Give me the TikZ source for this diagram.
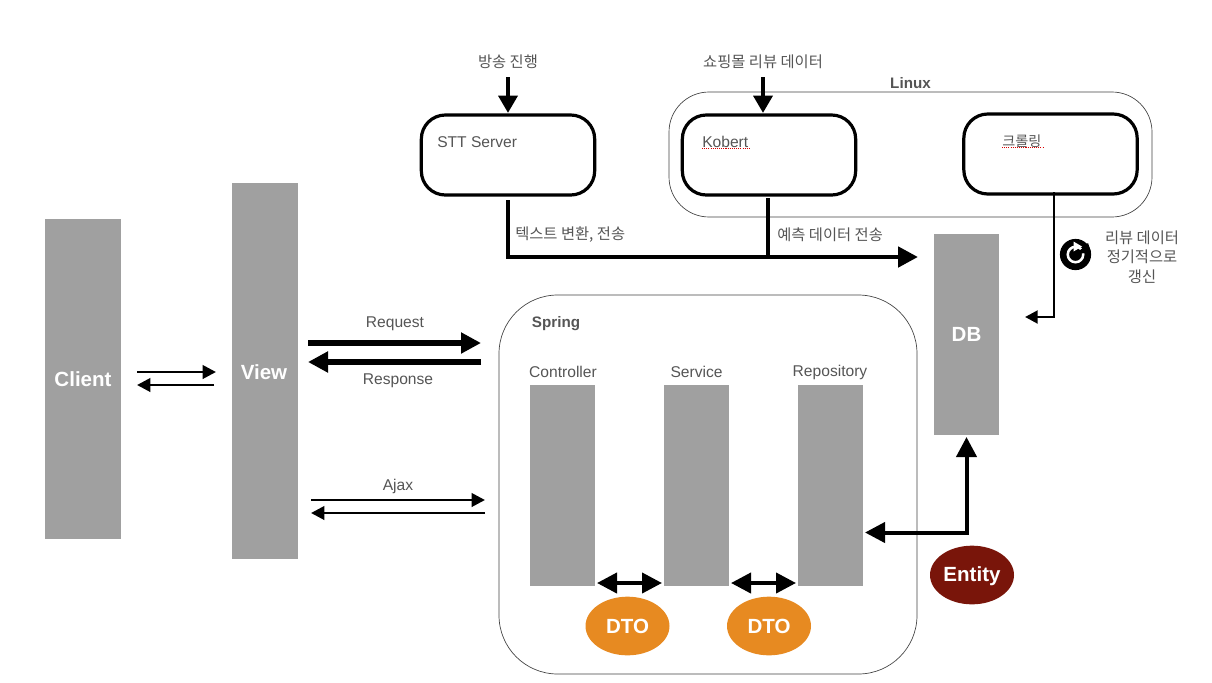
\documentclass[tikz,border=0pt]{standalone}
\usepackage{fontspec}
\setmainfont{Liberation Sans}
\newfontfamily\krfont{Noto Sans CJK KR}
\usetikzlibrary{arrows.meta,shapes.geometric}
\definecolor{blockgray}{HTML}{A0A0A0}
\definecolor{labelgray}{HTML}{555555}
\definecolor{dtoorange}{HTML}{E78A21}
\definecolor{entityred}{HTML}{79150A}
\tikzset{
  block/.style={fill=blockgray,draw=none,inner sep=0pt,text=white,font=\fontsize{15.4}{18}\selectfont\bfseries},
  badge/.style={ellipse,draw=none,inner sep=0pt,minimum width=63pt,minimum height=44pt,text=white,font=\fontsize{15.4}{18}\selectfont\bfseries},
  serverbox/.style={draw=black,line width=2.4pt,fill=white,rounded corners=18pt,minimum width=130pt,minimum height=60pt,inner sep=0pt},
  groupbox/.style={draw=black!75,line width=0.5pt,inner sep=0pt},
  lbl/.style={text=labelgray,inner sep=0pt,font=\fontsize{11.7}{14}\selectfont},
  krlbl/.style={text=labelgray,inner sep=0pt,align=center,font=\krfont\fontsize{11.5}{14.7}\selectfont},
  grouplbl/.style={text=labelgray,inner sep=0pt,font=\fontsize{11.4}{14}\selectfont\bfseries},
  heavy/.style={line width=3.8pt,-{Triangle[length=15pt,width=15pt]}},
  medium/.style={line width=3pt,{Triangle[length=15pt,width=15pt]}-{Triangle[length=15pt,width=15pt]}},
  feed/.style={line width=3.5pt,-{Triangle[length=13pt,width=14pt]}},
  pipe/.style={line width=3.6pt,line cap=butt},
  slim/.style={line width=2.1pt,-{Triangle[length=10pt,width=10pt]}},
  squiggle/.style={draw=red!85!black,line width=0.7pt,dash pattern=on 0.8pt off 0.8pt},
}
\begin{document}
\begin{tikzpicture}[x=0.75pt,y=-0.75pt]
\useasboundingbox (0,0) rectangle (1212,682);
% group frames
\node[groupbox,rounded corners=30pt,minimum width=362.25pt,minimum height=93.75pt] (linux) at (910.5,154.5) {};
\node[groupbox,rounded corners=44pt,minimum width=313.5pt,minimum height=284.25pt] (spring) at (708,484.5) {};
\node[grouplbl] (linuxlbl) at (910.5,83) {Linux};
\node[grouplbl] (springlbl) at (556,323.5) {Spring};
% blocks
\node[block,minimum width=57pt,minimum height=240pt] (client) at (83,379) {Client};
\node[block,minimum width=49.5pt,minimum height=282pt] (view) at (265,371) {};
\node[block,text=white] (viewlbl) at (264,372) {View};
\node[block,minimum width=48.75pt,minimum height=150.75pt] (db) at (966.5,334.5) {DB};
\node[block,minimum width=48.75pt,minimum height=150.75pt] (controller) at (562.5,485.5) {};
\node[block,minimum width=48.75pt,minimum height=150.75pt] (service) at (696.5,485.5) {};
\node[block,minimum width=48.75pt,minimum height=150.75pt] (repository) at (830.5,485.5) {};
\node[lbl] (controllerlbl) at (563,372) {Controller};
\node[lbl] (servicelbl) at (696.5,372) {Service};
\node[lbl] (repositorylbl) at (830,372) {Repository};
% badges
\node[badge,fill=dtoorange] (dtoa) at (627.5,626) {DTO};
\node[badge,fill=dtoorange] (dtob) at (769,626) {DTO};
\node[badge,fill=entityred] (entity) at (972,575) {};
\node[block,fill=none] (entitylbl) at (972,576) {Entity};
% servers
\node[serverbox] (stt) at (508,155) {};
\node[serverbox] (kobert) at (769,155) {};
\node[serverbox] (crawl) at (1050.5,154) {};
\node[lbl,anchor=west] (sttlbl) at (437,142) {STT Server};
\node[lbl,anchor=west] (kobertlbl) at (702,142) {Kobert};
\node[krlbl,anchor=west,font=\krfont\fontsize{10.6}{14}\selectfont] (crawllbl) at (1002,141) {크롤링};
\draw[squiggle] (702,148.5) -- (749,148.5);
\draw[squiggle] (1002,147) -- (1044,147);
% input labels
\node[krlbl] (broadcast) at (508,62) {방송 진행};
\node[krlbl] (reviewdata) at (763,62) {쇼핑몰 리뷰 데이터};
\coordinate (broadcastout) at (508,77);
\coordinate (reviewout) at (763,77);
\coordinate (sttin) at (508,113);
\coordinate (kobertin) at (763,113);
\draw[feed] (broadcastout) -- (sttin);
\draw[feed] (reviewout) -- (kobertin);
% converging pipe to DB
\coordinate (sttout) at (508,200);
\coordinate (kobertout) at (768,198);
\coordinate (joina) at (508,257);
\coordinate (joinb) at (768,257);
\coordinate (dbin) at (918,257);
\draw[pipe] (kobertout) -- (joinb);
\draw[line width=3.6pt,-{Triangle[length=15pt,width=15pt]}] (sttout) -- (joina) -- (dbin);
\node[krlbl,anchor=west] (sttmsg) at (515,234.5) {텍스트 변환, 전송};
\node[krlbl,anchor=west] (kobertmsg) at (777,234.5) {예측 데이터 전송};
% crawl to DB
\coordinate (crawlout) at (1054,192);
\coordinate (crawlbend) at (1054,317);
\coordinate (dbside) at (1025,317);
\draw[line width=2.2pt,-{Triangle[length=9.5pt,width=9.5pt]}] (crawlout) -- (crawlbend) -- (dbside);
% refresh icon
\fill[black] (1075.5,254.5) circle[radius=11.7pt];
\draw[white,line width=1.9pt] (1075.5,254.5) circle[radius=5.8pt];
\fill[black] (1075.5,254.5) -- (1088,243) -- (1091,252) -- cycle;
\fill[white] (1073.5,241.5) -- (1082,246.5) -- (1073.5,251.5) -- cycle;
\node[krlbl] (cycle) at (1142,257) {리뷰 데이터\\정기적으로\\갱신};
% request / response
\coordinate (rqa) at (308,343);
\coordinate (rqb) at (481,343);
\coordinate (rsa) at (481,362);
\coordinate (rsb) at (308,362);
\draw[heavy] (rqa) -- (rqb);
\draw[heavy] (rsa) -- (rsb);
\node[lbl] (request) at (395,324) {Request};
\node[lbl] (response) at (398,381) {Response};
% ajax
\coordinate (aja) at (311,500);
\coordinate (ajb) at (485,500);
\coordinate (ajc) at (485,513);
\coordinate (ajd) at (311,513);
\draw[slim] (aja) -- (ajb);
\draw[slim] (ajc) -- (ajd);
\node[lbl] (ajax) at (398,486) {Ajax};
% client / view
\coordinate (cva) at (137,372);
\coordinate (cvb) at (216,372);
\coordinate (cvc) at (214,385);
\coordinate (cvd) at (137,385);
\draw[slim] (cva) -- (cvb);
\draw[slim] (cvc) -- (cvd);
% between layers
\coordinate (cta) at (597,583);
\coordinate (ctb) at (662,583);
\coordinate (sra) at (731,583);
\coordinate (srb) at (796,583);
\draw[medium] (cta) -- (ctb);
\draw[medium] (sra) -- (srb);
\coordinate (repoout) at (865,532.5);
\coordinate (bend) at (966.5,532.5);
\coordinate (dbbottom) at (966.5,437);
\draw[medium] (repoout) -- (bend) -- (dbbottom);
\end{tikzpicture}
\end{document}
